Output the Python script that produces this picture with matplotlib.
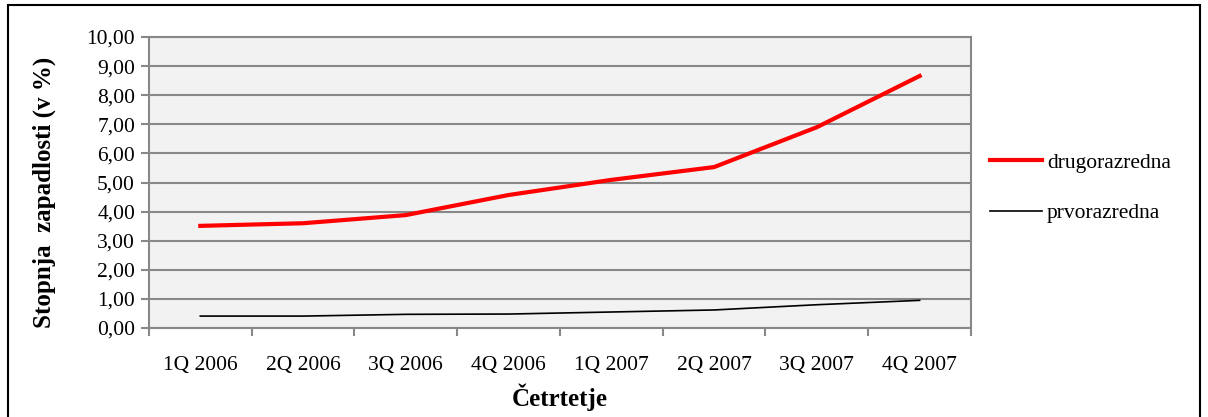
import matplotlib
matplotlib.use("Agg")
import matplotlib.pyplot as plt
from matplotlib.patches import Rectangle
from matplotlib.ticker import FuncFormatter

quarters = ['1Q 2006', '2Q 2006', '3Q 2006', '4Q 2006', '1Q 2007', '2Q 2007', '3Q 2007', '4Q 2007']
drugorazredna = [3.51, 3.60, 3.88, 4.57, 5.09, 5.53, 6.90, 8.66]
prvorazredna = [0.41, 0.41, 0.47, 0.48, 0.55, 0.62, 0.80, 0.95]

plt.rcParams['font.family'] = ['Liberation Serif', 'DejaVu Serif']

fig = plt.figure(figsize=(12.08, 4.17), dpi=100)
ax = fig.add_axes([0.1233, 0.2134, 0.6805, 0.6979])
fig.patches.append(Rectangle((8 / 1208, -0.01), 1192 / 1208, 1 - 5 / 417 + 0.01,
                             transform=fig.transFigure, fill=False, edgecolor='black', linewidth=1.5))

x = list(range(len(quarters)))
ax.plot(x, drugorazredna, color='#ff0000', linewidth=3, label='drugorazredna')
ax.plot(x, prvorazredna, color='black', linewidth=1.2, label='prvorazredna')

ax.set_facecolor('#f2f2f2')
ax.set_xlim(-0.5, 7.5)
ax.set_ylim(0, 10)
ax.set_yticks(range(0, 11))
ax.yaxis.set_major_formatter(FuncFormatter(lambda v, p: f'{v:.2f}'.replace('.', ',')))
ax.set_xticks(x)
ax.set_xticklabels(quarters)
ax.set_xticks([i - 0.5 for i in range(9)], minor=True)
ax.tick_params(axis='x', which='major', length=0, pad=20, labelsize=15.5)
ax.tick_params(axis='x', which='minor', length=6, color='#888888', width=1.5)
ax.tick_params(axis='y', length=6, color='#888888', width=1.5, labelsize=15.5, pad=4)
ax.grid(axis='y', color='#888888', linewidth=1.5)
ax.set_axisbelow(True)
for s in ax.spines.values():
    s.set_color('#888888')
    s.set_linewidth(1.5)

ax.set_xlabel('Četrtetje', fontsize=18, fontweight='bold')
ax.xaxis.set_label_coords(0.5, -0.19)
ax.set_ylabel('Stopnja  zapadlosti (v %)', fontsize=18, fontweight='bold')
ax.yaxis.set_label_coords(-0.113, 0.467)

ax.legend(loc='center left', bbox_to_anchor=(1.023, 0.481), frameon=False, fontsize=15.5,
          handlelength=2.4, handletextpad=0.25, labelspacing=1.4,
          borderaxespad=0, borderpad=0)

fig.savefig('out.png', dpi=100)
